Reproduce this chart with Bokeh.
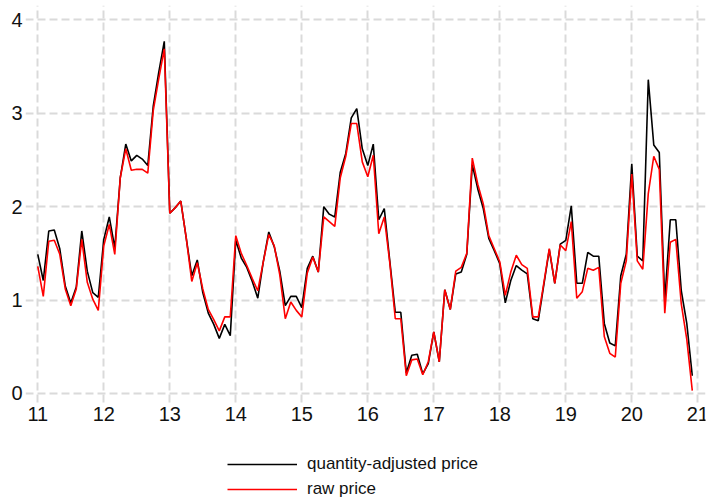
from bokeh.plotting import figure
from bokeh.models import FixedTicker, Range1d, Legend, LegendItem
from bokeh.embed import file_html
from bokeh.resources import INLINE

# monthly observations, Jan 2011 .. Dec 2020 (x axis in two-digit years)
years = [11, 12, 13, 14, 15, 16, 17, 18, 19, 20]

qty_adjusted = [
    1.49, 1.21, 1.74, 1.75, 1.55, 1.15, 0.97, 1.14, 1.74, 1.31, 1.08, 1.03,
    1.65, 1.89, 1.56, 2.31, 2.67, 2.49, 2.55, 2.51, 2.44, 3.08, 3.44, 3.77,
    1.93, 1.99, 2.06, 1.66, 1.26, 1.43, 1.08, 0.86, 0.74, 0.59, 0.74, 0.62,
    1.64, 1.45, 1.35, 1.20, 1.02, 1.41, 1.73, 1.57, 1.31, 0.94, 1.04, 1.04,
    0.92, 1.34, 1.47, 1.30, 2.00, 1.92, 1.89, 2.37, 2.57, 2.95, 3.05, 2.62,
    2.44, 2.67, 1.86, 1.98, 1.42, 0.87, 0.87, 0.22, 0.41, 0.42, 0.21, 0.32,
    0.66, 0.34, 1.11, 0.90, 1.28, 1.30, 1.49, 2.45, 2.19, 1.98, 1.66, 1.53,
    1.39, 0.97, 1.21, 1.37, 1.32, 1.28, 0.80, 0.78, 1.16, 1.54, 1.18, 1.60,
    1.64, 2.01, 1.18, 1.18, 1.51, 1.47, 1.47, 0.75, 0.54, 0.51, 1.26, 1.49,
    2.46, 1.47, 1.42, 3.36, 2.66, 2.58, 1.00, 1.86, 1.86, 1.10, 0.75, 0.19,
]

raw_price = [
    1.36, 1.04, 1.63, 1.64, 1.49, 1.12, 0.94, 1.12, 1.65, 1.19, 1.01, 0.89,
    1.58, 1.81, 1.49, 2.31, 2.62, 2.39, 2.40, 2.40, 2.36, 3.03, 3.37, 3.69,
    1.93, 1.99, 2.06, 1.66, 1.20, 1.40, 1.12, 0.90, 0.79, 0.67, 0.82, 0.82,
    1.69, 1.50, 1.37, 1.23, 1.10, 1.41, 1.70, 1.58, 1.27, 0.80, 0.98, 0.89,
    0.82, 1.29, 1.46, 1.30, 1.89, 1.84, 1.79, 2.31, 2.54, 2.89, 2.89, 2.48,
    2.32, 2.55, 1.71, 1.89, 1.40, 0.80, 0.80, 0.19, 0.36, 0.37, 0.20, 0.34,
    0.66, 0.34, 1.11, 0.90, 1.31, 1.35, 1.50, 2.52, 2.24, 2.03, 1.69, 1.55,
    1.41, 1.05, 1.30, 1.48, 1.38, 1.34, 0.82, 0.82, 1.18, 1.55, 1.18, 1.59,
    1.53, 1.84, 1.02, 1.09, 1.34, 1.32, 1.35, 0.61, 0.43, 0.39, 1.18, 1.42,
    2.35, 1.42, 1.33, 2.14, 2.54, 2.40, 0.86, 1.62, 1.65, 0.96, 0.58, 0.03,
]

x_ticks = [11, 12, 13, 14, 15, 16, 17, 18, 19, 20, 21]
y_ticks = [0, 1, 2, 3, 4]
labels = ["quantity-adjusted price", "raw price"]

t = [y + m / 12.0 for y in years for m in range(12)]

FONT = "Liberation Sans"
Y_BOTTOM = -0.096   # lower edge of the plotting area
Y_TOP = 4.154

p = figure(width=711, height=499, output_backend="svg", toolbar_location=None,
           x_range=Range1d(10.814, 21.117), y_range=Range1d(-1.135, Y_TOP),
           min_border_left=25, min_border_right=6, min_border_top=5,
           min_border_bottom=0)
p.outline_line_color = None
p.background_fill_color = "white"
p.border_fill_color = "white"

for ax in (p.xaxis[0], p.yaxis[0]):
    ax.axis_line_color = None
    ax.major_tick_line_color = None
    ax.minor_tick_line_color = None
    ax.major_tick_out = 0
    ax.major_tick_in = 0
    ax.major_label_text_font = FONT
    ax.major_label_text_font_size = "20px"
    ax.major_label_text_color = "#111111"
p.xaxis[0].ticker = FixedTicker(ticks=x_ticks)
p.yaxis[0].ticker = FixedTicker(ticks=y_ticks)
p.xaxis[0].major_label_standoff = 5
p.yaxis[0].major_label_standoff = 3
p.xaxis[0].fixed_location = Y_BOTTOM

for g in (p.xgrid[0], p.ygrid[0]):
    g.grid_line_color = "#dadada"
    g.grid_line_width = 2
    g.grid_line_dash = "8 4"
p.xgrid[0].ticker = FixedTicker(ticks=x_ticks)
p.ygrid[0].ticker = FixedTicker(ticks=y_ticks)
if "cross_bounds" in p.xgrid[0].properties():
    p.xgrid[0].cross_bounds = (Y_BOTTOM, Y_TOP)

r1 = p.line(t, qty_adjusted, line_color="black", line_width=1.6)
r2 = p.line(t, raw_price, line_color="#ff0000", line_width=1.6)

legend = Legend(items=[LegendItem(label=labels[0], renderers=[r1]),
                       LegendItem(label=labels[1], renderers=[r2])],
                location=(202, 0), orientation="vertical")
legend.border_line_color = None
legend.background_fill_alpha = 0
legend.label_text_font = FONT
legend.label_text_font_size = "17px"
legend.label_text_color = "#111111"
legend.glyph_width = 70
legend.glyph_height = 20
legend.label_height = 20
legend.label_standoff = 10
legend.spacing = 5
legend.padding = 0
legend.margin = 0
p.add_layout(legend, "center")

open("out.html", "w").write(file_html(p, INLINE))
